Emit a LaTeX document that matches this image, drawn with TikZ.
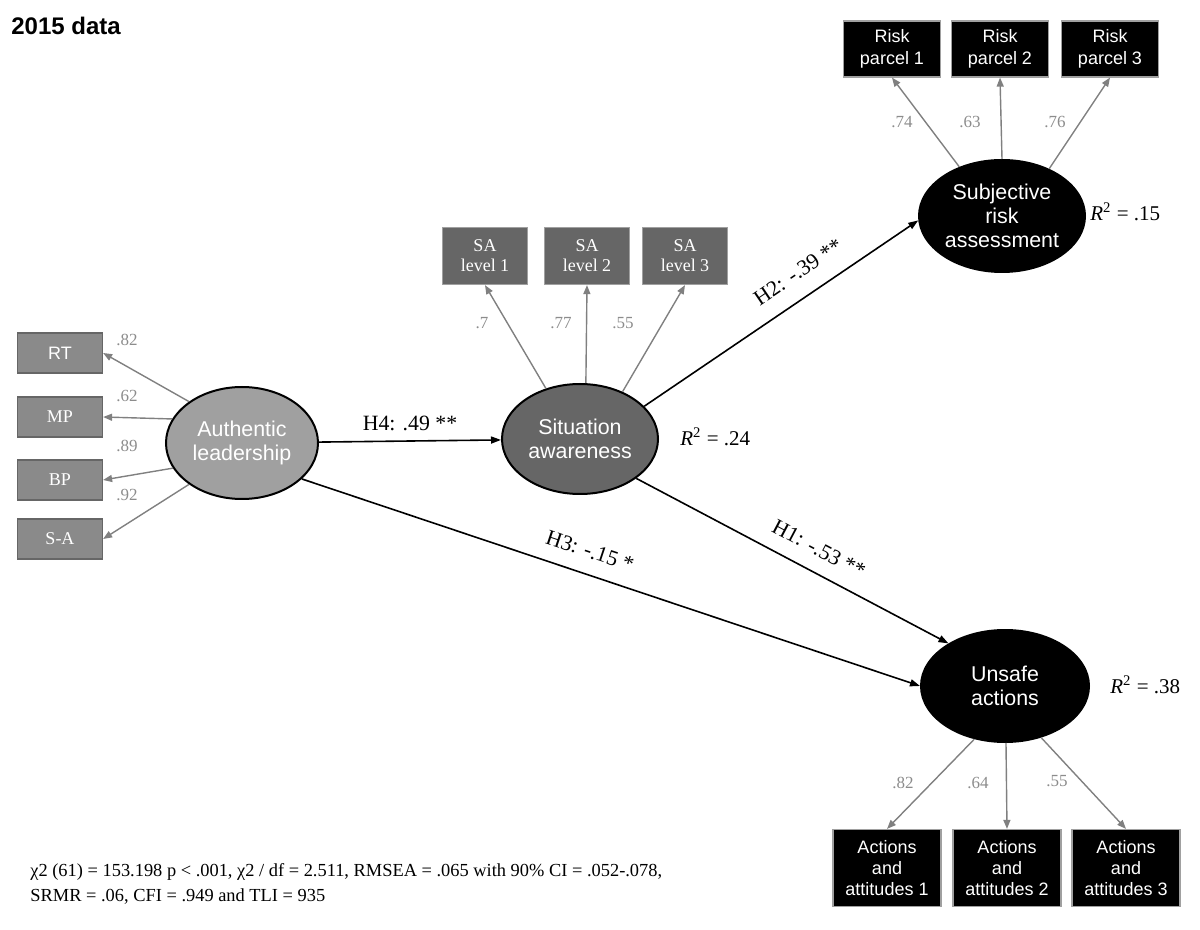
\documentclass[tikz,border=0pt]{standalone}
\usepackage{fontspec}
\setmainfont{Liberation Serif}
\setsansfont{Liberation Sans}
\usetikzlibrary{shapes.geometric, arrows.meta}
\definecolor{loadgray}{HTML}{808080}
\definecolor{labgray}{HTML}{8C8C8C}
\definecolor{midgray}{HTML}{666666}
\definecolor{lightfill}{HTML}{A0A0A0}
\definecolor{boxgray}{HTML}{8A8A8A}

\begin{document}
\begin{tikzpicture}[x=0.5pt, y=-0.5pt,
  every node/.style = {align=center, inner sep=0pt},
  latent/.style = {ellipse, draw=black, line width=1pt, text=white,
    font=\sffamily\fontsize{10.7}{12}\selectfont},
  leftbox/.style = {rectangle, fill=boxgray, draw=gray!80!black, line width=0.6pt,
    minimum width=42.5pt, minimum height=20pt, text=white, font=\fontsize{9}{10}\selectfont},
  sabox/.style = {rectangle, fill=midgray, draw=lightfill, line width=0.6pt,
    minimum width=42.5pt, minimum height=28.5pt, text=white, font=\fontsize{9}{10}\selectfont},
  blackbox/.style = {rectangle, fill=black, draw=lightfill, line width=0.6pt, text=white,
    font=\sffamily\fontsize{9}{10.7}\selectfont},
  loadarrow/.style = {draw=loadgray, line width=0.7pt, -{Triangle[length=4.5pt, width=3.5pt]}},
  hyparrow/.style = {draw=black, line width=0.8pt, -{Triangle[length=5pt, width=3.5pt]}},
  loadlab/.style = {text=labgray, font=\fontsize{8.5}{10}\selectfont},
  hyplab/.style = {font=\fontsize{10.9}{13}\selectfont},
  rsq/.style = {anchor=west, font=\fontsize{10.5}{12}\selectfont}
]
\useasboundingbox (0,0) rectangle (1200,930);

\node[anchor=west, font=\sffamily\bfseries\fontsize{12}{14}\selectfont] (title) at (11,26) {2015 data};

\node[leftbox] (rt) at (60,353) {\sffamily RT};
\node[leftbox] (mp) at (60,417) {MP};
\node[leftbox] (bp) at (60,480) {BP};
\node[leftbox] (sel) at (60,539) {S-A};

\node[latent, fill=lightfill, minimum width=76pt, minimum height=56pt] (al) at (242,443) {Authentic\\leadership};
\node[latent, fill=midgray, minimum width=78pt, minimum height=55pt] (sa) at (580,439) {Situation\\awareness};
\node[latent, fill=black, minimum width=83pt, minimum height=56pt] (sra) at (1002,216) {Subjective\\risk\\assessment};
\node[latent, fill=black, minimum width=84pt, minimum height=56pt] (ua) at (1005,686) {Unsafe\\actions};

\node[sabox] (sal1) at (485,256) {SA\\level 1};
\node[sabox] (sal2) at (587,256) {SA\\level 2};
\node[sabox] (sal3) at (685,256) {SA\\level 3};

\node[blackbox, minimum width=48.5pt, minimum height=28pt] (rp1) at (892,49) {Risk\\parcel 1};
\node[blackbox, minimum width=48.5pt, minimum height=28pt] (rp2) at (1000,49) {Risk\\parcel 2};
\node[blackbox, minimum width=48.5pt, minimum height=28pt] (rp3) at (1110,49) {Risk\\parcel 3};

\node[blackbox, minimum width=54pt, minimum height=38.5pt] (aa1) at (887,868) {Actions\\and\\attitudes 1};
\node[blackbox, minimum width=54pt, minimum height=38.5pt] (aa2) at (1007,868) {Actions\\and\\attitudes 2};
\node[blackbox, minimum width=54pt, minimum height=38.5pt] (aa3) at (1126,868) {Actions\\and\\attitudes 3};

\draw[loadarrow] (al.142) -- (rt.east);
\draw[loadarrow] (al.161) -- (mp.east);
\draw[loadarrow] (al.200) -- (bp.east);
\draw[loadarrow] (al.218) -- (sel.east);
\draw[loadarrow] (sa.124) -- (sal1.south);
\draw[loadarrow] (sa.84) -- (sal2.south);
\draw[loadarrow] (sa.48) -- (sal3.south);
\draw[loadarrow] (sra.131) -- (rp1.south);
\draw[loadarrow] (sra.90) -- (rp2.south);
\draw[loadarrow] (sra.45) -- (rp3.south);
\draw[loadarrow] (ua.240) -- (aa1.north);
\draw[loadarrow] (ua.271) -- (aa2.north);
\draw[loadarrow] (ua.305) -- (aa3.north);

\draw[hyparrow] (al) -- (sa);
\draw[hyparrow] (sa.27) -- (sra.183);
\draw[hyparrow] (sa.325) -- (ua.143);
\draw[hyparrow] (al.329) -- (ua.west);

\node[loadlab] (l1) at (127,340) {.82};
\node[loadlab] (l2) at (127,396) {.62};
\node[loadlab] (l3) at (127,446) {.89};
\node[loadlab] (l4) at (127,495) {.92};
\node[loadlab] (l5) at (482,323) {.7};
\node[loadlab] (l6) at (561,323) {.77};
\node[loadlab] (l7) at (623,323) {.55};
\node[loadlab] (l8) at (902,122) {.74};
\node[loadlab] (l9) at (970,122) {.63};
\node[loadlab] (l10) at (1055,122) {.76};
\node[loadlab] (l11) at (903,783) {.82};
\node[loadlab] (l12) at (978,783) {.64};
\node[loadlab] (l13) at (1057,781) {.55};

\node[hyplab] (h4) at (410,423) {H4: .49 **};
\node[hyplab, rotate=34] (h2) at (798,272) {H2: -.39 **};
\node[hyplab, rotate=-18.4] (h3) at (590,551) {H3: -.15 *};
\node[hyplab, rotate=-27.8] (h1) at (819,549) {H1: -.53 **};

\node[rsq] (r24) at (680,437) {\textit{R}\textsuperscript{2} = .24};
\node[rsq] (r15) at (1090,212) {\textit{R}\textsuperscript{2} = .15};
\node[rsq] (r38) at (1110,685) {\textit{R}\textsuperscript{2} = .38};

\node[anchor=west, align=left, font=\fontsize{9.2}{12.5}\selectfont] (fit) at (30,884)
  {χ2 (61) = 153.198 p < .001, χ2 / df = 2.511, RMSEA = .065 with 90\% CI = .052-.078,\\
   SRMR = .06, CFI = .949 and TLI = 935};
\end{tikzpicture}
\end{document}
